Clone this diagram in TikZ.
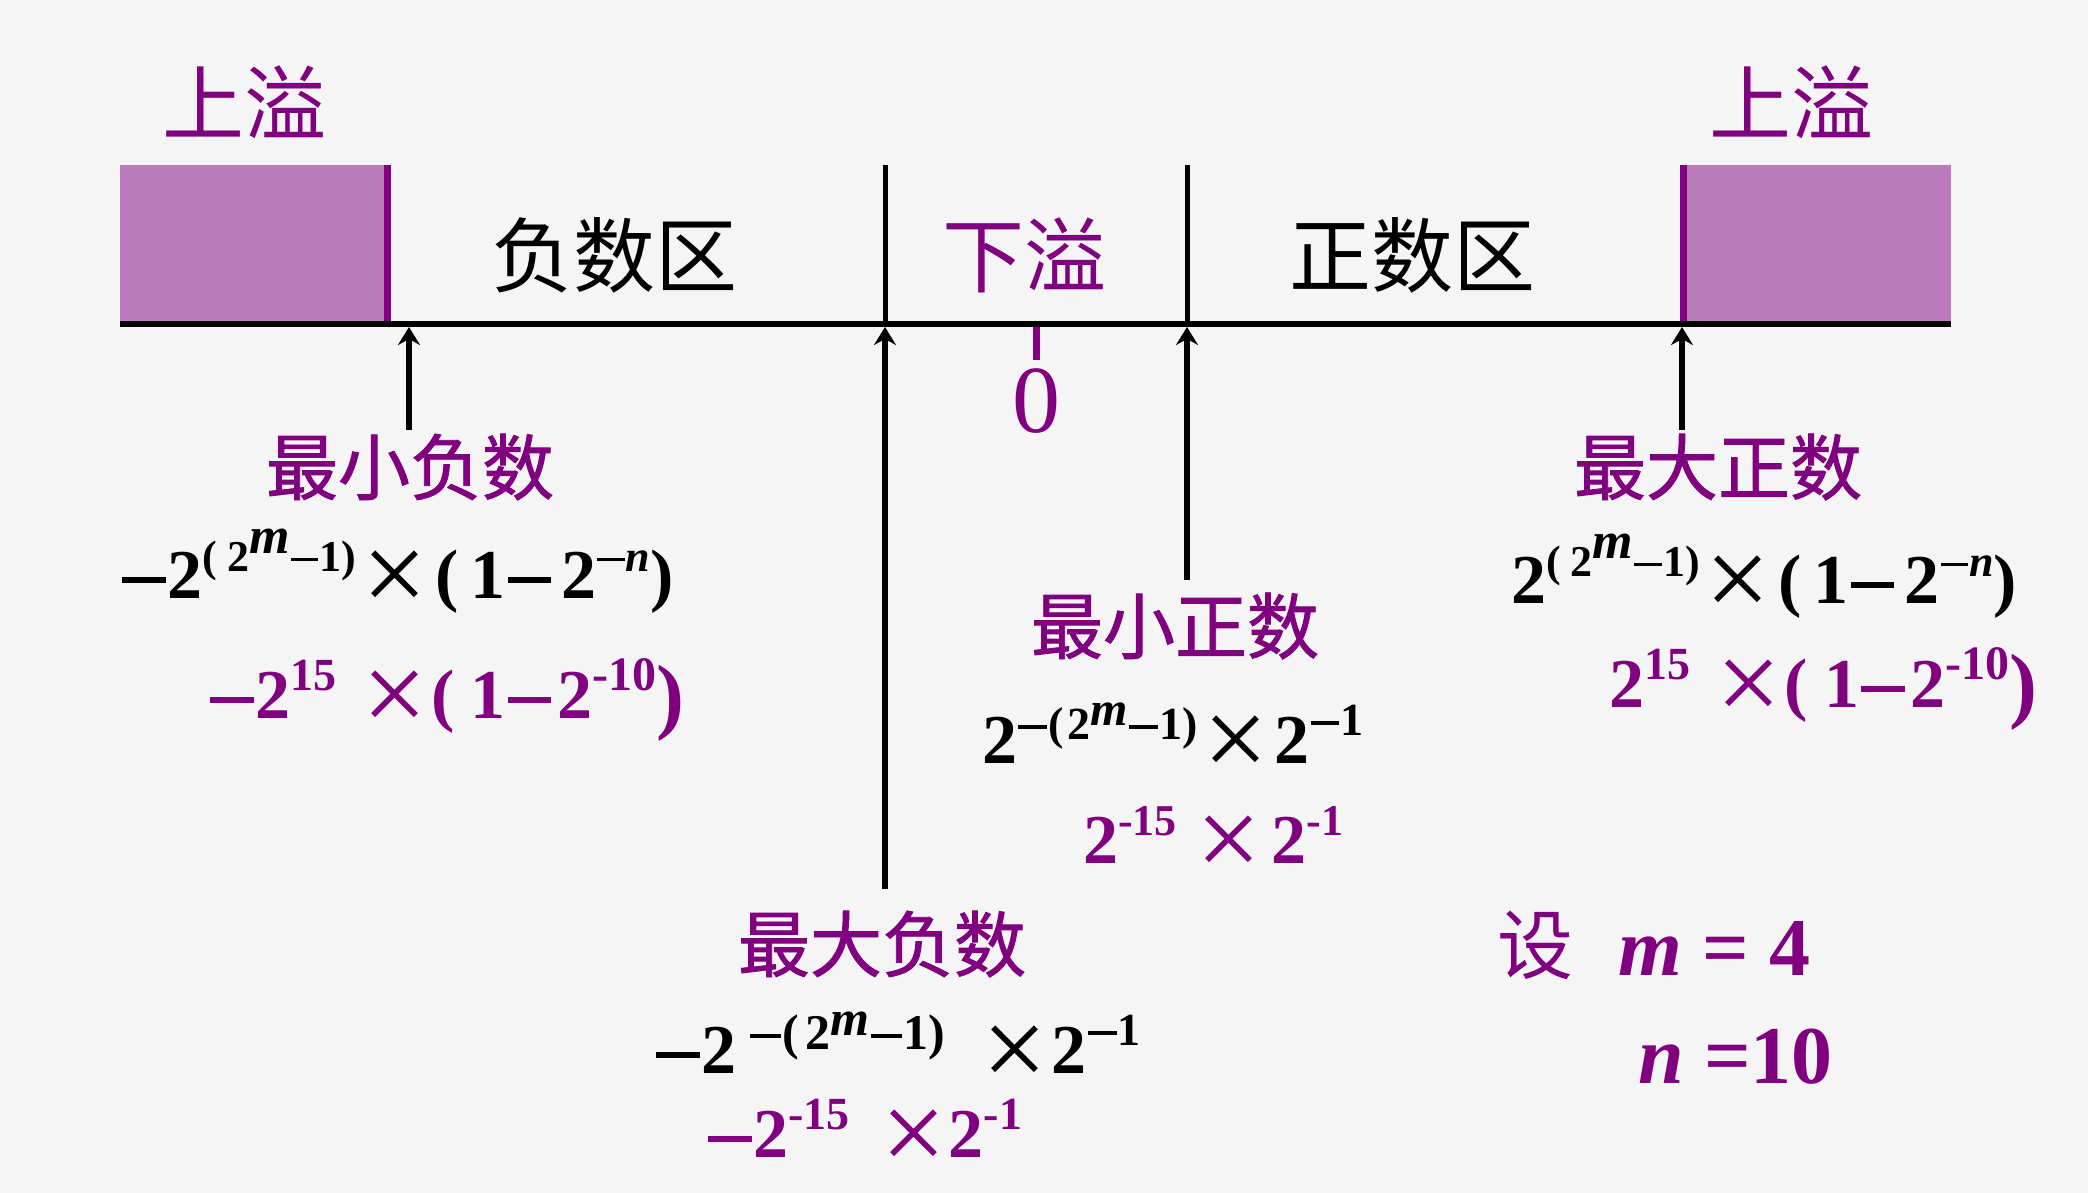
\documentclass[tikz,border=0pt]{standalone}
\usepackage{fontspec}
\setmainfont{Liberation Serif}
\newfontfamily\cjk{Noto Sans CJK SC}
\newfontfamily\cjkb[FakeBold=1.2]{Noto Sans CJK SC}
\usetikzlibrary{arrows.meta}
\definecolor{pur}{RGB}{128,0,128}
\definecolor{boxc}{RGB}{187,123,187}
\definecolor{bgc}{RGB}{245,245,245}
\newcommand\fs[1]{\fontsize{#1}{#1}\selectfont}
\newcommand\Sup[3]{\raisebox{#1}{\fs{#2}#3}}
\newcommand\Mn{\kern0.03em\rule[0.22em]{0.62em}{0.075em}\kern0.03em}
\newcommand\X{\raisebox{-14pt}{\fs{115}\mdseries ×}}
\begin{document}
\begin{tikzpicture}[x=1pt,y=-1pt,
  lab/.style={inner sep=0pt, outer sep=0pt},
  zone/.style={lab, font=\cjk\fs{82}},
  tag/.style={lab, font=\cjkb\fs{72}, text=pur},
  fml/.style={lab, anchor=base west, font=\bfseries\fs{70}},
  pfml/.style={fml, text=pur},
  divider/.style={line width=5pt, draw=black},
  arr/.style={line width=6pt, draw=black, -{Stealth[length=18pt,width=22pt,inset=6pt]}},
  ovbox/.style={fill=boxc, draw=none, inner sep=0pt, minimum width=271pt, minimum height=159pt},
  edge/.style={line width=7pt, draw=pur}
]
\useasboundingbox (0,0) rectangle (2088,1193);
\fill[bgc] (0,0) rectangle (2088,1193);

% overflow boxes
\node[ovbox] (lbox) at (255.5,244.5) {};
\node[ovbox] (rbox) at (1815.5,244.5) {};
\draw[edge] (lbox.north east) ++(-3.5,0) coordinate (le1) -- (lbox.south east -| le1);
\draw[edge] (rbox.north west) ++(3.5,0) coordinate (re1) -- (rbox.south west -| re1);

% axis
\coordinate (axL) at (120,324);
\coordinate (axR) at (1951,324);
\draw[line width=6pt] (axL) -- (axR);

% dividers
\coordinate (d1t) at (885,165);
\coordinate (d1b) at (885,324);
\coordinate (d2t) at (1187,165);
\coordinate (d2b) at (1187,324);
\draw[divider] (d1t) -- (d1b);
\draw[divider] (d2t) -- (d2b);

% zero tick
\coordinate (z0) at (1036,327);
\coordinate (z1) at (1036,360);
\node[lab, text=pur, font=\fs{96}] (zero) at (1036,401) {0};
\draw[line width=7pt, pur] (z0) -- (z1);

% top labels
\node[zone, text=pur] (ovl) at (244,102) {上溢};
\node[zone, text=pur] (ovr) at (1791,102) {上溢};
\node[zone] (negz) at (614,255) {负数区};
\node[zone, text=pur] (unf) at (1024,255) {下溢};
\node[zone] (posz) at (1412,255) {正数区};

% arrows to the axis
\coordinate (t1) at (409,327);
\coordinate (t2) at (885,327);
\coordinate (t3) at (1187,327);
\coordinate (t4) at (1682,327);
\coordinate (s1) at (409,430);
\coordinate (s2) at (885,889);
\coordinate (s3) at (1187,580);
\coordinate (s4) at (1682,430);
\draw[arr] (s1) -- (t1);
\draw[arr] (s2) -- (t2);
\draw[arr] (s3) -- (t3);
\draw[arr] (s4) -- (t4);

% minimum negative
\node[tag] (minneg) at (410,467) {最小负数};
\node[fml] (fa) at (120,598) {\Mn 2\Sup{27pt}{44}{(\kern10pt 2\Sup{18pt}{52}{\itshape m}\Mn 1)}\kern6pt\X\kern8pt(\kern12pt 1\Mn\kern8pt 2\Sup{27pt}{44}{\Mn\itshape n})};
\node[pfml] (pa) at (208,718) {\Mn 2\Sup{28pt}{46}{15}\kern26pt\X\kern4pt(\kern16pt 1\Mn\kern4pt 2\Sup{28pt}{48}{-10}\Sup{-5pt}{84}{)}};

% minimum positive
\node[tag] (minpos) at (1175,626) {最小正数};
\node[fml] (fb) at (982,763) {2\Sup{24pt}{46}{\Mn(\kern4pt 2\Sup{14pt}{48}{\itshape m}\Mn 1)}\kern6pt\X\kern6pt 2\Sup{28pt}{46}{\Mn 1}};
\node[pfml] (pb) at (1083,863) {2\Sup{28pt}{44}{-15}\kern20pt\X\kern10pt 2\Sup{28pt}{44}{-1}};

% maximum positive
\node[tag] (maxpos) at (1718,467) {最大正数};
\node[fml] (fc) at (1511,603) {2\Sup{27pt}{44}{(\kern10pt 2\Sup{18pt}{52}{\itshape m}\Mn 1)}\kern6pt\X\kern8pt(\kern12pt 1\Mn\kern8pt 2\Sup{27pt}{44}{\Mn\itshape n})};
\node[pfml] (pc) at (1609,707) {2\Sup{28pt}{46}{15}\kern26pt\X\kern4pt(\kern16pt 1\Mn\kern4pt 2\Sup{28pt}{48}{-10}\Sup{-5pt}{84}{)}};

% maximum negative
\node[tag] (maxneg) at (882,944) {最大负数};
\node[fml] (fd) at (654,1073) {\Mn 2\kern12pt\Sup{24pt}{50}{\Mn(\kern6pt 2\Sup{14pt}{50}{\itshape m}\Mn 1)}\kern38pt\X\kern4pt 2\Sup{28pt}{46}{\Mn 1}};
\node[pfml] (pd) at (706,1157) {\Mn 2\Sup{28pt}{46}{-15}\kern32pt\X\kern2pt 2\Sup{28pt}{46}{-1}};

% parameters
\node[lab, font=\cjk\fs{76}, text=pur] (set) at (1535,945) {设};
\node[lab, anchor=base west, text=pur, font=\bfseries\fs{82}] (mv) at (1618,975) {\itshape m\upshape\ = 4};
\node[lab, anchor=base west, text=pur, font=\bfseries\fs{82}] (nv) at (1638,1083) {\itshape n\upshape\ =10};
\end{tikzpicture}
\end{document}
